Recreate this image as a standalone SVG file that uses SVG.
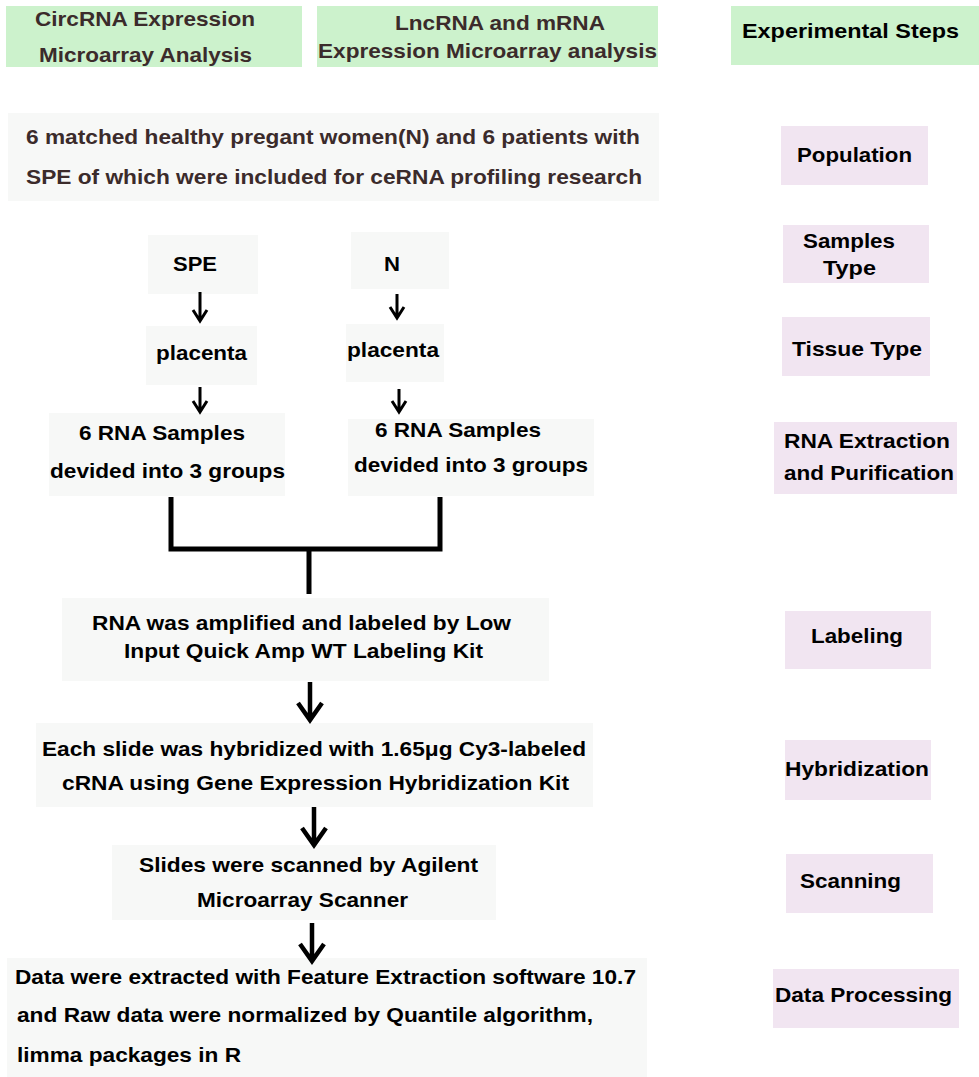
<svg xmlns="http://www.w3.org/2000/svg" width="979" height="1077" viewBox="0 0 979 1077">
<style>
text{font-family:"Liberation Sans",Arial,sans-serif;font-weight:bold;font-size:21px;fill:#000}
.hd{fill:#3b2b2b}
.green{fill:#ccf2cc}
.pink{fill:#f1e5f1}
.gray{fill:#f7f8f7}
.ln{stroke:#000;fill:none;stroke-linecap:butt}
.sm{stroke-width:3}
.bg{stroke-width:4.5}
.br{stroke-width:5;stroke-linejoin:miter}
</style>
<rect width="979" height="1077" fill="#fff"/>
<g id="hdr-circ"><rect class="green" x="6" y="6" width="296" height="61"/>
<text class="hd" x="35" y="26" textLength="220" lengthAdjust="spacingAndGlyphs">CircRNA Expression</text>
<text class="hd" x="39" y="62" textLength="213" lengthAdjust="spacingAndGlyphs">Microarray Analysis</text></g>
<g id="hdr-lnc"><rect class="green" x="317" y="6" width="341" height="61"/>
<text class="hd" x="395" y="30" textLength="210" lengthAdjust="spacingAndGlyphs">LncRNA and mRNA</text>
<text class="hd" x="318" y="58" textLength="339" lengthAdjust="spacingAndGlyphs">Expression Microarray analysis</text></g>
<g id="hdr-steps"><rect class="green" x="731" y="6" width="248" height="59"/>
<text x="742" y="38" textLength="217" lengthAdjust="spacingAndGlyphs">Experimental  Steps</text></g>

<g id="population"><rect class="gray" x="8" y="113" width="651" height="88"/>
<text class="hd" x="26" y="144" textLength="614" lengthAdjust="spacingAndGlyphs">6 matched healthy pregant women(N) and 6 patients with</text>
<text class="hd" x="26" y="184" textLength="616" lengthAdjust="spacingAndGlyphs">SPE of which were included for ceRNA profiling research</text></g>

<g id="spe"><rect class="gray" x="148" y="235" width="110" height="59"/>
<text x="173" y="271" textLength="44" lengthAdjust="spacingAndGlyphs">SPE</text></g>
<g id="n"><rect class="gray" x="351" y="232" width="98" height="57"/>
<text x="384" y="271" textLength="16" lengthAdjust="spacingAndGlyphs">N</text></g>
<g id="placenta-spe"><rect class="gray" x="146" y="326" width="111" height="59"/>
<text x="156" y="360" textLength="91" lengthAdjust="spacingAndGlyphs">placenta</text></g>
<g id="placenta-n"><rect class="gray" x="346" y="324" width="98" height="58"/>
<text x="347" y="357" textLength="92" lengthAdjust="spacingAndGlyphs">placenta</text></g>
<g id="rna-spe"><rect class="gray" x="49" y="413" width="236" height="83"/>
<text x="79" y="440" textLength="166" lengthAdjust="spacingAndGlyphs">6 RNA Samples</text>
<text x="50" y="478" textLength="235" lengthAdjust="spacingAndGlyphs">devided into 3 groups</text></g>
<g id="rna-n"><rect class="gray" x="348" y="419" width="246" height="77"/>
<text x="375" y="437" textLength="166" lengthAdjust="spacingAndGlyphs">6 RNA Samples</text>
<text x="354" y="472" textLength="234" lengthAdjust="spacingAndGlyphs">devided into 3 groups</text></g>
<g id="labeling"><rect class="gray" x="62" y="598" width="487" height="83"/>
<text x="92" y="630" textLength="419" lengthAdjust="spacingAndGlyphs">RNA was amplified and labeled by Low</text>
<text x="124" y="658" textLength="359" lengthAdjust="spacingAndGlyphs">Input Quick Amp WT Labeling Kit</text></g>
<g id="hybrid"><rect class="gray" x="36" y="723" width="557" height="84"/>
<text x="42" y="756" textLength="544" lengthAdjust="spacingAndGlyphs">Each slide was hybridized with 1.65μg Cy3-labeled</text>
<text x="62" y="790" textLength="507" lengthAdjust="spacingAndGlyphs">cRNA using Gene Expression Hybridization Kit</text></g>
<g id="scan"><rect class="gray" x="112" y="845" width="384" height="75"/>
<text x="139" y="872" textLength="339" lengthAdjust="spacingAndGlyphs">Slides were scanned by Agilent</text>
<text x="197" y="907" textLength="211" lengthAdjust="spacingAndGlyphs">Microarray Scanner</text></g>
<g id="data"><rect class="gray" x="7" y="958" width="640" height="119"/>
<text x="15" y="984" textLength="621" lengthAdjust="spacingAndGlyphs">Data were extracted with Feature Extraction software 10.7</text>
<text x="17" y="1022" textLength="576" lengthAdjust="spacingAndGlyphs">and Raw data were normalized by Quantile algorithm,</text>
<text x="17" y="1062" textLength="224" lengthAdjust="spacingAndGlyphs">limma packages in R</text></g>

<g id="step-population"><rect class="pink" x="781" y="126" width="147" height="59"/>
<text x="797" y="162" textLength="115" lengthAdjust="spacingAndGlyphs">Population</text></g>
<g id="step-samples"><rect class="pink" x="783" y="225" width="146" height="58"/>
<text x="803" y="248" textLength="92" lengthAdjust="spacingAndGlyphs">Samples</text>
<text x="823" y="275" textLength="53" lengthAdjust="spacingAndGlyphs">Type</text></g>
<g id="step-tissue"><rect class="pink" x="782" y="317" width="148" height="59"/>
<text x="792" y="356" textLength="130" lengthAdjust="spacingAndGlyphs">Tissue Type</text></g>
<g id="step-rna"><rect class="pink" x="774" y="422" width="183" height="72"/>
<text x="784" y="448" textLength="166" lengthAdjust="spacingAndGlyphs">RNA Extraction</text>
<text x="784" y="480" textLength="170" lengthAdjust="spacingAndGlyphs">and Purification</text></g>
<g id="step-labeling"><rect class="pink" x="785" y="611" width="146" height="58"/>
<text x="811" y="643" textLength="92" lengthAdjust="spacingAndGlyphs">Labeling</text></g>
<g id="step-hybrid"><rect class="pink" x="785" y="740" width="146" height="60"/>
<text x="785" y="776" textLength="144" lengthAdjust="spacingAndGlyphs">Hybridization</text></g>
<g id="step-scan"><rect class="pink" x="786" y="854" width="147" height="59"/>
<text x="800" y="888" textLength="101" lengthAdjust="spacingAndGlyphs">Scanning</text></g>
<g id="step-data"><rect class="pink" x="773" y="969" width="186" height="59"/>
<text x="775" y="1002" textLength="177" lengthAdjust="spacingAndGlyphs">Data Processing</text></g>

<g id="connectors">
<path class="ln sm" d="M200 292V321M193 310L200 321L207 310"/>
<path class="ln sm" d="M397 294V318M390 307L397 318L404 307"/>
<path class="ln sm" d="M200 387V412M193 401L200 412L207 401"/>
<path class="ln sm" d="M399 389V412M392 401L399 412L406 401"/>
<path class="ln br" d="M171 497V549H440V497"/>
<path class="ln br" d="M309 551V594"/>
<path class="ln bg" d="M310 682V720M298 703L310 720L322 703"/>
<path class="ln bg" d="M314 807V845M302 828L314 845L326 828"/>
<path class="ln bg" d="M312 923V961M300 944L312 961L324 944"/>
</g>
</svg>
